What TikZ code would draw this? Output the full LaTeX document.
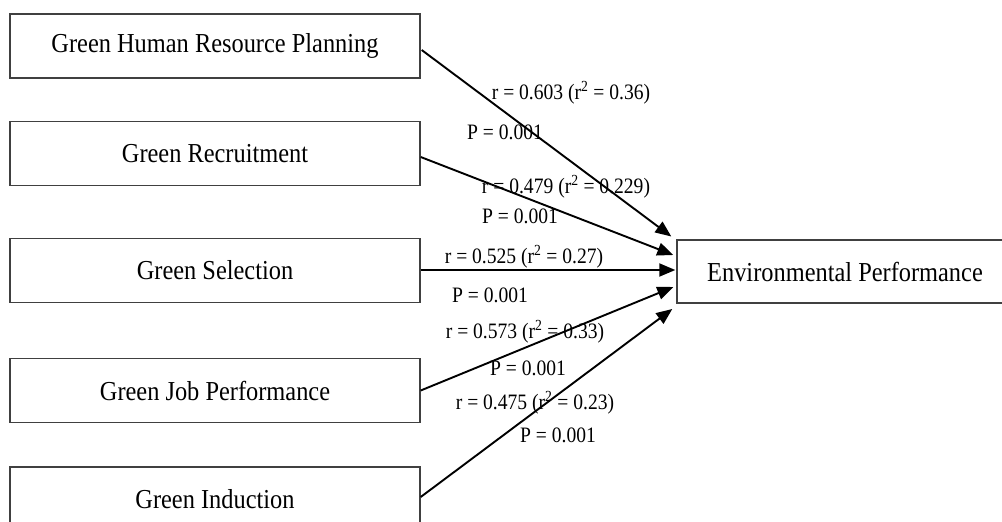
\documentclass[tikz,border=0pt]{standalone}
\usepackage{fontspec}
\setmainfont[FakeStretch=0.89]{Liberation Serif}
\usetikzlibrary{arrows.meta,calc}
\tikzset{
  box/.style={draw=black!75, line width=1.4pt, minimum height=64pt, inner sep=0pt, anchor=center,
    font=\fontsize{27.4pt}{31pt}\selectfont},
  src/.style={box, minimum width=410pt},
  arr/.style={draw=black, line width=1.9pt, -{Triangle[length=16pt,width=13pt]}},
  lab/.style={inner sep=0pt, anchor=center, font=\fontsize{22pt}{25pt}\selectfont}
}
\begin{document}
\begin{tikzpicture}[x=1pt,y=-1pt]
\useasboundingbox (0,0) rectangle (1002,522);
\clip (0,0) rectangle (1002,522);
\node[src] (b1) at (215,46) {Green Human Resource Planning};
\node[src] (b2) at (215,153.5) {Green Recruitment};
\node[src] (b3) at (215,270.5) {Green Selection};
\node[src] (b4) at (215,390.5) {Green Job Performance};
\node[src] (b5) at (215,499) {Green Induction};
\node[box, minimum width=338pt, minimum height=63pt] (tg) at (846,271.5) {};
\node[font=\fontsize{27.4pt}{31pt}\selectfont, inner sep=0pt] (tgt) at (845,271.5) {Environmental Performance};

\node[lab] (l1) at (571,93) {r = 0.603 (r\textsuperscript{2} = 0.36)};
\node[lab] (p1) at (505,132) {P = 0.001};
\node[lab] (l2) at (566,187) {r = 0.479 (r\textsuperscript{2} = 0.229)};
\node[lab] (p2) at (520,216) {P = 0.001};
\node[lab] (l3) at (524,257) {r = 0.525 (r\textsuperscript{2} = 0.27)};
\node[lab] (p3) at (490,295) {P = 0.001};
\node[lab] (l4) at (525,332) {r = 0.573 (r\textsuperscript{2} = 0.33)};
\node[lab] (p4) at (528,368) {P = 0.001};
\node[lab] (l5) at (535,403) {r = 0.475 (r\textsuperscript{2} = 0.23)};
\node[lab] (p5) at (558,435) {P = 0.001};

\draw[arr] ($(b1.east)+(1,4)$) -- ($(tg.west)+(-5,-35)$);
\draw[arr] ($(b2.east)+(0,3.5)$) -- ($(tg.west)+(-3,-16.5)$);
\draw[arr] ($(b3.east)+(0,-0.5)$) -- ($(tg.west)+(-1,-1.5)$);
\draw[arr] (b4.east) -- ($(tg.west)+(-3,15.5)$);
\draw[arr] ($(b5.east)+(0,-2)$) -- ($(tg.west)+(-4,37.5)$);
\end{tikzpicture}
\end{document}
